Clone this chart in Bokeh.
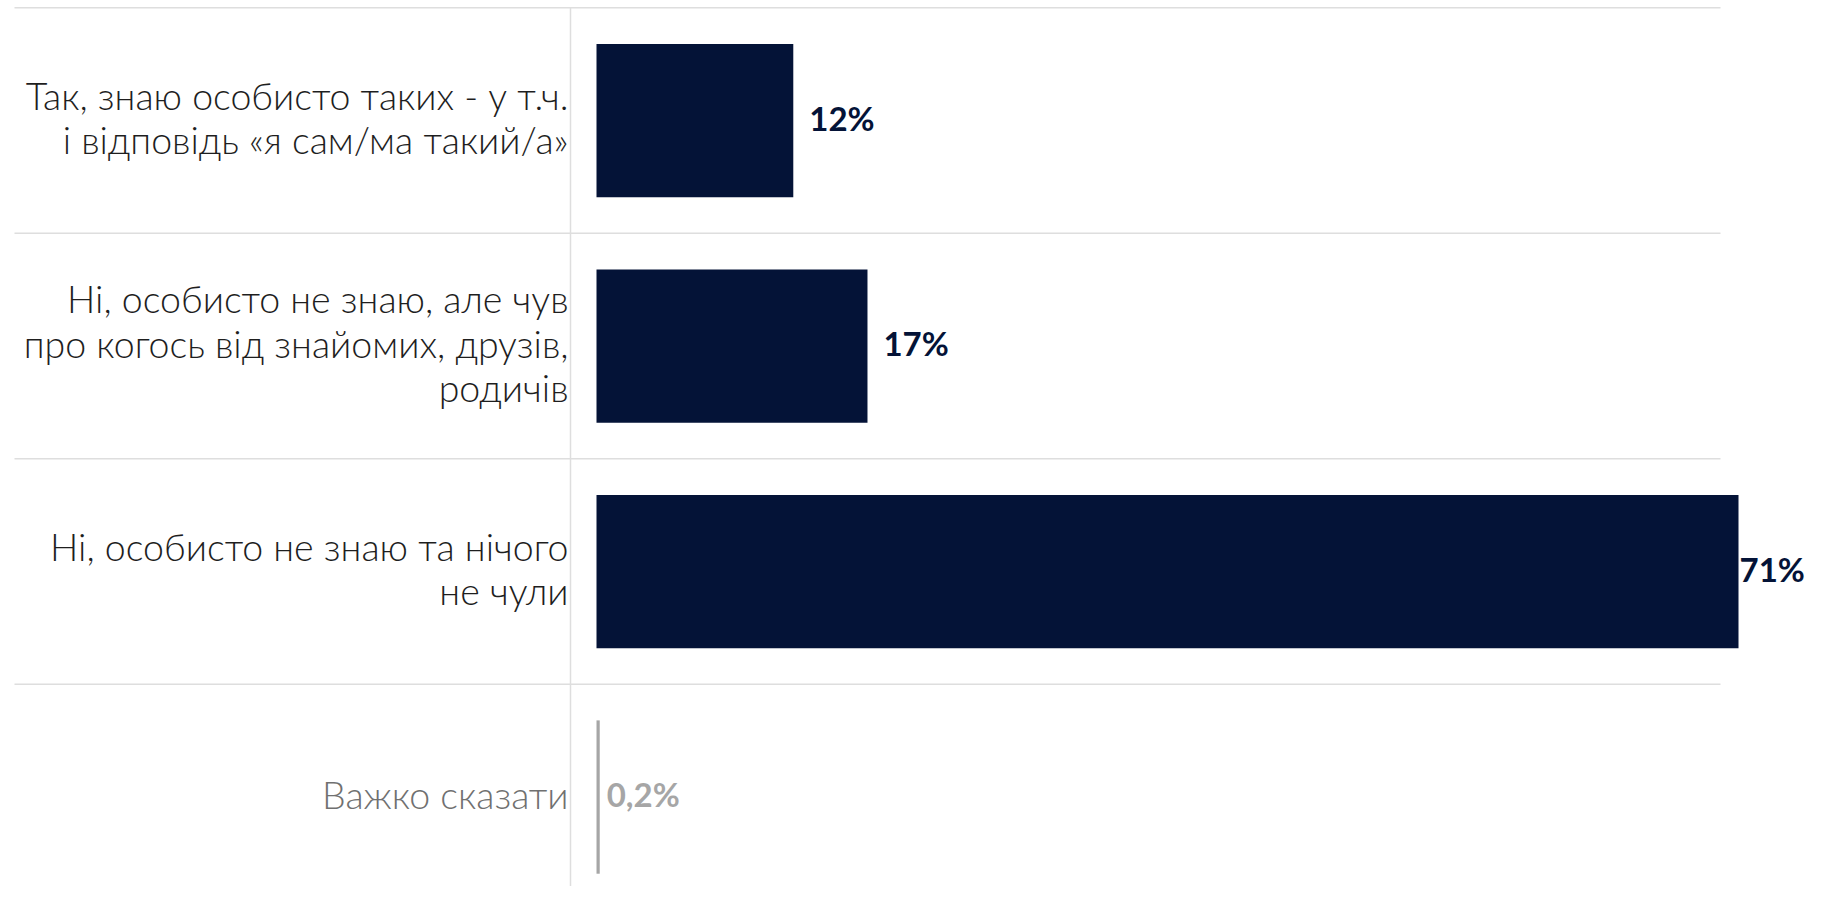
from bokeh.plotting import figure
from bokeh.models import Range1d, ColumnDataSource
from bokeh.core.properties import value
from bokeh.embed import file_html
from bokeh.resources import INLINE

# ---- data ----
categories = [
    "Так, знаю особисто таких - у т.ч.\nі відповідь «я сам/ма такий/а»",
    "Ні, особисто не знаю, але чув\nпро когось від знайомих, друзів,\nродичів",
    "Ні, особисто не знаю та нічого\nне чули",
    "Важко сказати",
]
values = [12.2, 16.8, 70.8, 0.2]
value_labels = ["12%", "17%", "71%", "0,2%"]

# ---- styles / layout ----
bar_colors = ["#041337", "#041337", "#041337", "#a6a6a6"]
cat_colors = ["#1e1e1e", "#1e1e1e", "#1e1e1e", "#707070"]
val_colors = ["#041337", "#041337", "#041337", "#a6a6a6"]
val_offsets = [16, 16, 1, 7]

W, H = 1805, 886
PX_PER_UNIT = 16.13      # pixels per percentage point
ZERO_PX = 596            # x pixel of 0 within the frame
BAND_PX = 225.5          # pixels per category band
TOP_LINE_PX = 7.3        # pixel of the first band boundary

x_start = -ZERO_PX / PX_PER_UNIT
x_end = x_start + W / PX_PER_UNIT
y_top = -0.5 - TOP_LINE_PX / BAND_PX
y_bottom = y_top + H / BAND_PX

ys = list(range(len(categories)))

p = figure(width=W, height=H, output_backend="svg", toolbar_location=None,
           x_range=Range1d(x_start, x_end), y_range=Range1d(y_bottom, y_top),
           x_axis_location=None, y_axis_location=None, min_border=0)
p.grid.visible = False
p.outline_line_color = None
p.background_fill_color = "white"

# horizontal separators at band boundaries
gx0 = x_start + 14 / PX_PER_UNIT
gx1 = x_start + 1720 / PX_PER_UNIT
bounds = [i - 0.5 for i in range(len(categories) + 1)]
p.segment(x0=[gx0] * len(bounds), x1=[gx1] * len(bounds), y0=bounds, y1=bounds,
          line_color="#dedede", line_width=1.5)
# vertical separator between labels and bars
vx = -26 / PX_PER_UNIT
p.segment(x0=[vx], x1=[vx], y0=[-0.5], y1=[y_bottom], line_color="#dedede", line_width=1.5)

src = ColumnDataSource(dict(y=ys, v=values, cat=categories, lab=value_labels,
                            bc=bar_colors, cc=cat_colors, vc=val_colors, off=val_offsets))

p.hbar(y="y", left=0, right="v", height=0.68, fill_color="bc", line_color=None, source=src)

p.text(x=0, y="y", text="cat", x_offset=-28, y_offset=-3, text_align="right",
       text_baseline="middle", text_font=value("Lato Light"), text_font_size="37.5px",
       text_color="cc", text_line_height=0.98, source=src)

p.text(x="v", y="y", text="lab", x_offset="off", y_offset=-3, text_align="left",
       text_baseline="middle", text_font=value("Lato"), text_font_style="bold",
       text_font_size="33px", text_color="vc", source=src)

open("out.html", "w").write(file_html(p, INLINE))
